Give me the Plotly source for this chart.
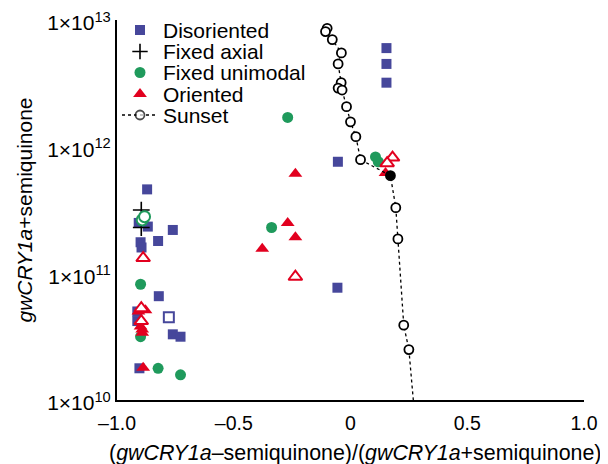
import plotly.graph_objects as go

# ---------------- data ----------------
dis_x = [0.154, 0.154, 0.154, -0.054, -0.056, -0.871, -0.907, -0.868, -0.761, -0.824,
         -0.899, -0.895, -0.821, -0.913, -0.913, -0.761, -0.728, -0.904, -0.778]
dis_y = [6.0e12, 4.5e12, 3.2e12, 7.6e11, 7.7e10, 4.6e11, 2.5e11, 2.34e11, 2.2e11, 1.8e11,
         1.76e11, 1.6e11, 6.6e10, 5.0e10, 4.2e10, 3.3e10, 3.16e10, 1.78e10, 4.5e10]
dis_open = [0] * 18 + [1]

axial_x = [-0.896, -0.896]
axial_y = [3.16e11, 2.3e11]

uni_x = [-0.899, -0.899, -0.824, -0.728, -0.269, -0.338, 0.107, 0.119, -0.892, -0.882]
uni_y = [8.2e10, 3.16e10, 1.78e10, 1.58e10, 1.7e12, 2.3e11, 8.3e11, 7.6e11, 2.64e11, 2.8e11]
uni_open = [0, 0, 0, 0, 0, 0, 0, 0, 1, 1]

ori_x = [-0.236, -0.269, -0.236, -0.378, 0.150, -0.878, -0.908, -0.892, -0.892, -0.899, -0.888,
         -0.236, 0.180, 0.157, -0.888, -0.896, -0.896]
ori_y = [6.1e11, 2.5e11, 1.93e11, 1.56e11, 6.2e11, 5.1e10, 5.0e10, 3.6e10, 3.4e10, 3.8e10, 1.8e10,
         9.4e10, 8.2e11, 7.4e11, 1.32e11, 5.3e10, 4.2e10]
ori_open = [0] * 11 + [1] * 6

sun_x = [-0.100, -0.107, -0.078, -0.039, -0.053, -0.040, -0.053, -0.036, -0.017, 0.000,
         0.023, 0.043, 0.171, 0.194, 0.203, 0.228, 0.250]
sun_y = [8.6e12, 8.1e12, 7.0e12, 5.5e12, 4.5e12, 3.2e12, 2.9e12, 2.8e12, 2.07e12, 1.57e12,
         1.2e12, 7.9e11, 5.9e11, 3.3e11, 1.87e11, 3.9e10, 2.5e10]
sun_filled = [0] * 12 + [1] + [0] * 4
sun_tail_x = [0.250, 0.269]
sun_tail_y = [2.5e10, 1.0e10]

y_tickvals = [1e10, 1e11, 1e12, 1e13]
y_ticktext = ["1×10<sup>10</sup>", "1×10<sup>11</sup>", "1×10<sup>12</sup>", "1×10<sup>13</sup>"]
x_tickvals = [-1.0, -0.5, 0, 0.5, 1.0]
x_ticktext = ["\u20131.0", "\u20130.5", "0", "0.5", "1.0"]

legend_labels = ["Disoriented", "Fixed axial", "Fixed unimodal", "Oriented", "Sunset"]
x_title = "(<i>gwCRY1a</i>–semiquinone)/(<i>gwCRY1a</i>+semiquinone)"
y_title = "<i>gwCRY1a</i>+semiquinone"

BLUE = "#46479b"
GREEN = "#1f9a5c"
RED = "#e2001f"
FONT = "Liberation Sans"

# plot area in page pixels; the page body adds an 8 px offset
OFF = 8
L, R, T, B = 117, 584, 20, 400
W, H = 600, 456

fig = go.Figure()

fig.add_trace(go.Scatter(
    x=dis_x, y=dis_y, mode="markers", name="Disoriented",
    marker=dict(symbol="square", size=10,
                color=["white" if o else BLUE for o in dis_open],
                line=dict(color=BLUE, width=[2 if o else 0 for o in dis_open])),
))
fig.add_trace(go.Scatter(
    x=axial_x, y=axial_y, mode="markers", name="Fixed axial",
    marker=dict(symbol="cross-thin", size=12, color="black",
                line=dict(color="black", width=1.6)),
))
fig.add_trace(go.Scatter(
    x=uni_x, y=uni_y, mode="markers", name="Fixed unimodal",
    marker=dict(symbol="circle", size=11,
                color=["white" if o else GREEN for o in uni_open],
                line=dict(color=GREEN, width=[2 if o else 0 for o in uni_open])),
))
fig.add_trace(go.Scatter(
    x=ori_x, y=ori_y, mode="markers", name="Oriented",
    marker=dict(symbol="triangle-up", size=12,
                color=["white" if o else RED for o in ori_open],
                line=dict(color=RED, width=[2 if o else 0 for o in ori_open])),
))
fig.add_trace(go.Scatter(
    x=sun_tail_x, y=sun_tail_y, mode="lines",
    line=dict(color="black", width=1.3, dash="dot"),
))
fig.add_trace(go.Scatter(
    x=sun_x, y=sun_y, mode="lines+markers", name="Sunset",
    line=dict(color="black", width=1.3, dash="dot"),
    marker=dict(symbol="circle", size=9,
                color=["black" if f else "white" for f in sun_filled],
                line=dict(color="black", width=1.8)),
))

# ---------------- hand-built legend (overlay axes in page-pixel units) ----------------
row_y = [30, 51.5, 72.5, 94, 115]
sym_x = 140
fig.add_trace(go.Scatter(x=[sym_x], y=[row_y[0]], xaxis="x2", yaxis="y2", mode="markers",
                         marker=dict(symbol="square", size=10, color=BLUE)))
fig.add_trace(go.Scatter(x=[sym_x], y=[row_y[1]], xaxis="x2", yaxis="y2", mode="markers",
                         marker=dict(symbol="cross-thin", size=11, color="black",
                                     line=dict(color="black", width=1.6))))
fig.add_trace(go.Scatter(x=[sym_x], y=[row_y[2]], xaxis="x2", yaxis="y2", mode="markers",
                         marker=dict(symbol="circle", size=11, color=GREEN)))
fig.add_trace(go.Scatter(x=[sym_x], y=[row_y[3]], xaxis="x2", yaxis="y2", mode="markers",
                         marker=dict(symbol="triangle-up", size=12, color=RED)))
fig.add_trace(go.Scatter(x=[122, sym_x, 158], y=[row_y[4]] * 3, xaxis="x2", yaxis="y2",
                         mode="lines+markers",
                         line=dict(color="black", width=1.3, dash="dot"),
                         marker=dict(symbol="circle", size=[0, 9, 0], color="white",
                                     line=dict(color="black", width=[0, 1.8, 0]))))
for lab, yy in zip(legend_labels, row_y):
    fig.add_annotation(x=161, y=yy, xref="x2", yref="y2", text=lab, showarrow=False,
                       xanchor="left", yanchor="middle",
                       font=dict(family=FONT, size=21, color="black"))

# x-axis title as an annotation (page position x≈355, y≈453)
fig.add_annotation(x=(355 - L) / (R - L), y=(B - 453) / (B - T), xref="paper", yref="paper",
                   text=x_title, showarrow=False, xanchor="center", yanchor="middle",
                   font=dict(family=FONT, size=21.4, color="black"))

fig.update_layout(
    width=W, height=H,
    margin=dict(l=L - OFF, r=W - (R - OFF), t=T - OFF, b=H - (B - OFF)),
    paper_bgcolor="white", plot_bgcolor="white",
    font=dict(family=FONT, size=19, color="black"),
    showlegend=False,
    xaxis=dict(range=[-1.0, 1.0], tickvals=x_tickvals, ticktext=x_ticktext,
               showgrid=False, zeroline=False, showline=True, linecolor="black", linewidth=2,
               ticks="outside", ticklen=5, tickcolor="rgba(0,0,0,0)", automargin=False,
               ticklabeloverflow="allow",
               tickfont=dict(size=19.5, family=FONT)),
    yaxis=dict(type="log", range=[10, 13], tickvals=y_tickvals, ticktext=y_ticktext,
               showgrid=False, zeroline=False, showline=True, linecolor="black", linewidth=2,
               ticks="", automargin=False, ticklabeloverflow="allow", ticklabelshift=3,
               tickfont=dict(size=21, family=FONT),
               title=dict(text=y_title, font=dict(size=21, family=FONT), standoff=9)),
    xaxis2=dict(overlaying="x", range=[L, R], visible=False, anchor="y2"),
    yaxis2=dict(overlaying="y", range=[B, T], visible=False, anchor="x2"),
)

fig.write_html("out.html")
